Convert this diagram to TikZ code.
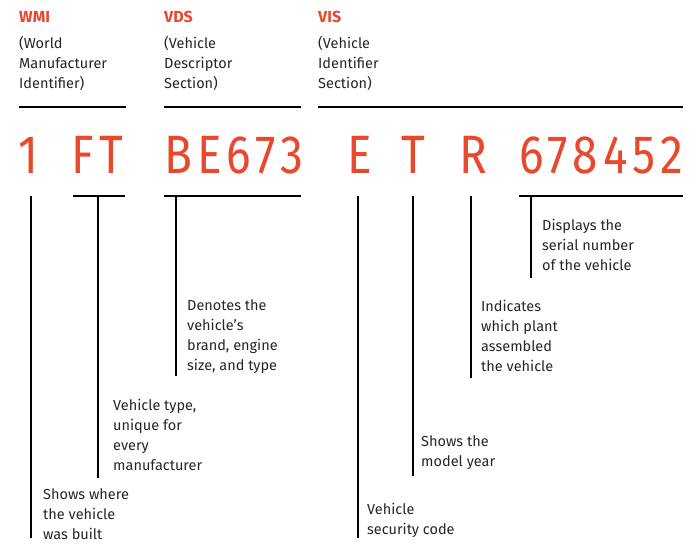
\documentclass[tikz,border=0pt]{standalone}
\usepackage{fontspec}
\setmainfont{Fira Sans}
\newfontfamily\codefont[FakeStretch=0.85,LetterSpace=10]{Fira Sans}
\definecolor{org}{HTML}{E8482B}
\begin{document}
\begin{tikzpicture}[x=1pt,y=-1pt,
  lbl/.style={anchor=north west,inner sep=0pt,align=left,font=\fontsize{14.5}{20}\selectfont,text=black!85},
  hdr/.style={anchor=west,inner sep=0pt,font=\bfseries\fontsize{16}{18}\selectfont,text=org},
  code/.style={anchor=base west,inner sep=0pt,text=org,font=\codefont\fontsize{54}{54}\selectfont},
  rule/.style={line width=1.6pt}]
\useasboundingbox (0,0) rectangle (700,548);
\node[hdr] (h1) at (19,17) {WMI};
\node[hdr] (h2) at (164,17) {VDS};
\node[hdr] (h3) at (318,17) {VIS};
\node[lbl] (s1) at (19,36) {(World\\Manufacturer\\Identifier)};
\node[lbl] (s2) at (164,36) {(Vehicle\\Descriptor\\Section)};
\node[lbl] (s3) at (318,36) {(Vehicle\\Identifier\\Section)};
\draw[rule] (19,107) -- (126,107);
\draw[rule] (164,107) -- (301,107);
\draw[rule] (318,107) -- (683,107);
\node[code] (c1) at (18,173) {1};
\node[code] (c2) at (71,173) {FT};
\node[code] (c3) at (164,173) {BE673};
\node[code] (c4) at (347,173) {E};
\node[code] (c5) at (401,173) {T};
\node[code] (c6) at (459,173) {R};
\node[code] (c7) at (519,173) {678452};
\draw[rule] (73,196) -- (125,196);
\draw[rule] (164,196) -- (301,196);
\draw[rule] (519,196) -- (683,196);
\draw[rule] (31,196) -- (31,538);
\draw[rule] (98,196) -- (98,478);
\draw[rule] (176,196) -- (176,376);
\draw[rule] (358,196) -- (358,538);
\draw[rule] (413,196) -- (413,476);
\draw[rule] (471,196) -- (471,378);
\draw[rule] (531,196) -- (531,278);
\node[lbl] (t1) at (43,488) {Shows where\\the vehicle\\was built};
\node[lbl] (t2) at (113,399) {Vehicle type,\\unique for\\every\\manufacturer};
\node[lbl] (t3) at (187,299) {Denotes the\\vehicle's\\brand, engine\\size, and type};
\node[lbl] (t4) at (367,503) {Vehicle\\security code};
\node[lbl] (t5) at (421,435) {Shows the\\model year};
\node[lbl] (t6) at (481,300) {Indicates\\which plant\\assembled\\the vehicle};
\node[lbl] (t7) at (542,219) {Displays the\\serial number\\of the vehicle};
\end{tikzpicture}
\end{document}
